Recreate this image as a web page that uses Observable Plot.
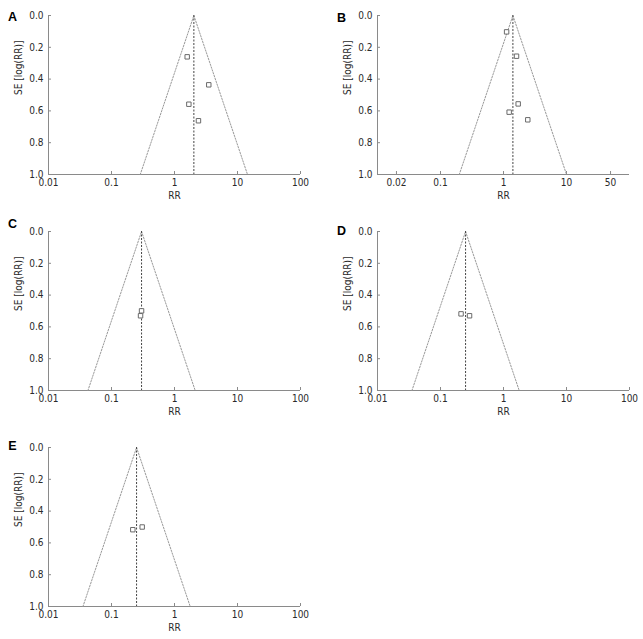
<!DOCTYPE html>
<html><head><meta charset="utf-8">
<script src="https://cdn.jsdelivr.net/npm/d3@7"></script>
<script src="https://cdn.jsdelivr.net/npm/@observablehq/plot@0.6"></script>
<style>
html,body{margin:0;padding:0;background:#fff;overflow:hidden;}
#wrap{position:relative;width:643px;height:639px;}
.panel{position:absolute;}
</style></head><body><div id="wrap"></div>
<script>
// ---- data ----
const panelLabels = ["A", "B", "C", "D", "E"];
const pooledRR = [2.03, 1.41, 0.30, 0.25, 0.25];
const rrA = [1.59, 3.50, 1.69, 2.40];
const seA = [0.26, 0.436, 0.558, 0.662];
const rrB = [1.12, 1.61, 1.71, 1.23, 2.43];
const seB = [0.103, 0.256, 0.556, 0.608, 0.656];
const rrC = [0.30, 0.289];
const seC = [0.499, 0.53];
const rrD = [0.212, 0.289];
const seD = [0.518, 0.53];
const rrE = [0.218, 0.307];
const seE = [0.517, 0.50];
const xTicksDefault = [0.01, 0.1, 1, 10, 100];
const xTicksB = [0.02, 0.1, 1, 10, 50];
const yTicks = [0, 0.2, 0.4, 0.6, 0.8, 1.0];
const xDomain = [0.01, 100];
const yDomain = [0, 1];
const xLabel = "RR";
const yLabel = "SE [log(RR)]";
const Z = 1.96;

const studyRR = [rrA, rrB, rrC, rrD, rrE];
const studySE = [seA, seB, seC, seD, seE];
const panelXTicks = [xTicksDefault, xTicksB, xTicksDefault, xTicksDefault, xTicksDefault];

// ---- layout (positions / styles only) ----
const layout = [
  {left: 0, top: 0, labelDy: -3},
  {left: 329, top: 0, labelDy: -2},
  {left: 0, top: 216, labelDy: -12},
  {left: 329, top: 216, labelDy: -5},
  {left: 0, top: 432, labelDy: -6}
];
const FONT = "'DejaVu Sans Condensed', 'DejaVu Sans', sans-serif";
const AXIS = "#8a8a8a";
const TEXT = "#2a2a2a";

const wrap = document.getElementById("wrap");
panelLabels.forEach((lab, i) => {
  const pooled = pooledRR[i];
  const pts = studyRR[i].map((rr, j) => ({rr, se: studySE[i][j]}));
  const funnel = [
    {x: Math.exp(Math.log(pooled) - Z * yDomain[1]), y: yDomain[1]},
    {x: pooled, y: yDomain[0]},
    {x: Math.exp(Math.log(pooled) + Z * yDomain[1]), y: yDomain[1]}
  ];
  const chart = Plot.plot({
    width: 314, height: 216,
    marginLeft: 48, marginRight: 14, marginTop: 15, marginBottom: 42,
    style: {fontFamily: FONT, fontSize: "10px", fontStretch: "condensed", color: TEXT, background: "white", overflow: "visible"},
    x: {type: "log", domain: xDomain},
    y: {domain: yDomain, reverse: true},
    marks: [
      Plot.axisX({ticks: panelXTicks[i], tickFormat: () => "", tickSize: -3, stroke: AXIS, label: null}),
      Plot.text(panelXTicks[i], {x: d => d, text: d => String(d), frameAnchor: "bottom", lineAnchor: "top", dy: 4, fill: TEXT}),
      Plot.axisY({ticks: yTicks, tickFormat: d3.format(".1f"), tickSize: -3, tickPadding: 8, stroke: AXIS, fill: TEXT, label: null}),
      Plot.ruleX([xDomain[0]], {stroke: AXIS}),
      Plot.ruleY([yDomain[1]], {stroke: AXIS}),
      Plot.line(funnel, {x: "x", y: "y", stroke: "#999", strokeWidth: 1, strokeDasharray: "1.5,1.5"}),
      Plot.ruleX([pooled], {stroke: "#444", strokeWidth: 1, strokeDasharray: "2,1.5"}),
      Plot.dot(pts, {x: "rr", y: "se", symbol: "square", r: 2.5, stroke: "#6a6a6a", fill: "white", strokeWidth: 1}),
      Plot.text([xLabel], {frameAnchor: "bottom", dy: 24, fill: TEXT}),
      Plot.text([yLabel], {frameAnchor: "left", rotate: -90, dx: -30, fill: TEXT}),
      Plot.text([lab], {frameAnchor: "top-left", dx: -36, dy: layout[i].labelDy, fill: "#000", fontWeight: "bold", fontSize: 12.5, fontFamily: "'Liberation Sans', Arial, sans-serif", textAnchor: "middle"})
    ]
  });
  chart.classList.add("panel");
  chart.style.left = layout[i].left + "px";
  chart.style.top = layout[i].top + "px";
  wrap.appendChild(chart);
});
</script>
</body></html>
